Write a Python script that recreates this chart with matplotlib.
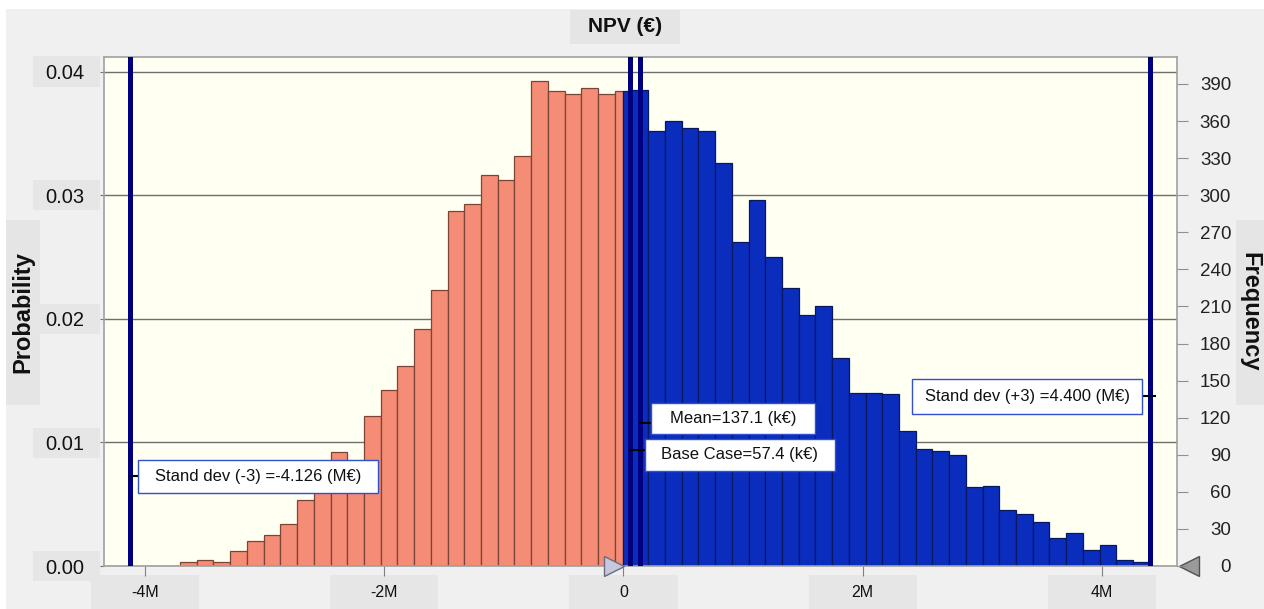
import matplotlib
matplotlib.use("Agg")
import matplotlib.pyplot as plt
import numpy as np
from matplotlib.patches import Rectangle
from matplotlib.transforms import offset_copy, blended_transform_factory

plt.rcParams['font.family'] = ['Liberation Sans', 'DejaVu Sans']

# ---------------- data ----------------
N_TRIALS = 10000
HIST_START = -3.708      # M€, left edge of first bin
BIN_WIDTH = 0.1398       # M€
COUNTS = [3, 5, 3, 12, 20, 25, 34, 53, 72, 92, 84, 121, 142, 162, 192, 223,
          287, 293, 316, 312, 332, 392, 384, 382, 387, 382, 384, 385, 352, 360,
          354, 352, 326, 262, 296, 250, 225, 203, 210, 168, 140, 140, 139, 109,
          95, 93, 90, 64, 65, 45, 42, 36, 23, 27, 13, 17, 5, 3]
SPLIT_VALUE = 0.0
STD_MINUS3 = -4.126
STD_PLUS3 = 4.400
MEAN = 0.1371
BASE_CASE = 0.0574

X_TICKS = [-4, -2, 0, 2, 4]
X_TICK_LABELS = ['-4M', '-2M', '0', '2M', '4M']
PROB_TICKS = [0.00, 0.01, 0.02, 0.03, 0.04]
FREQ_TICKS = list(range(0, 391, 30))

TITLE = 'NPV (€)'
LEFT_LABEL = 'Probability'
RIGHT_LABEL = 'Frequency'
LBL_SDM = 'Stand dev (-3) =-4.126 (M€)'
LBL_SDP = 'Stand dev (+3) =4.400 (M€)'
LBL_MEAN = 'Mean=137.1 (k€)'
LBL_BASE = 'Base Case=57.4 (k€)'

# ---------------- figure ----------------
W, H = 1264, 609
fig = plt.figure(figsize=(W / 100, H / 100), dpi=100, facecolor='#f0f0f0')

def fig_rect(x0, y0, x1, y1, color):
    fig.patches.append(Rectangle((x0 / W, 1 - y1 / H), (x1 - x0) / W, (y1 - y0) / H,
                                 transform=fig.transFigure, fc=color, ec='none', zorder=-5))

fig_rect(0, 0, 6, H, 'white')
fig_rect(0, 0, W, 9, 'white')
fig_rect(570, 10, 680, 44, '#e5e5e5')
fig_rect(6, 220, 40, 405, '#e5e5e5')
fig_rect(1236, 220, 1264, 405, '#e5e5e5')
# boxes behind the probability tick labels
for yc in [71.5, 195, 319, 443, 566]:
    fig_rect(33, yc - 15, 100, yc + 15, '#e6e6e6')

ax = fig.add_axes([104 / W, (H - 566) / H, (1177 - 104) / W, (566 - 57) / H])
ax.set_facecolor('#fffff2')
ax.set_xlim(-4.3436, 4.6279)
ax.set_ylim(0, 411.8)

# bars
edges = HIST_START + BIN_WIDTH * np.arange(len(COUNTS) + 1)
neg_l, neg_w, neg_h, pos_l, pos_w, pos_h = [], [], [], [], [], []
for i, c in enumerate(COUNTS):
    l, r = edges[i], edges[i + 1]
    if r <= SPLIT_VALUE:
        neg_l.append(l); neg_w.append(r - l); neg_h.append(c)
    elif l >= SPLIT_VALUE:
        pos_l.append(l); pos_w.append(r - l); pos_h.append(c)
    else:
        neg_l.append(l); neg_w.append(SPLIT_VALUE - l); neg_h.append(c)
        pos_l.append(SPLIT_VALUE); pos_w.append(r - SPLIT_VALUE); pos_h.append(c)

ax.bar(neg_l, neg_h, width=neg_w, align='edge', color='#f48c76',
       edgecolor='#7a4436', linewidth=0.9, zorder=2)
ax.bar(pos_l, pos_h, width=pos_w, align='edge', color='#0a2dbe',
       edgecolor='#08185e', linewidth=0.9, zorder=2)

# grid + axes styling
ax.set_yticks([p * N_TRIALS for p in PROB_TICKS])
ax.set_yticklabels([f'{p:.2f}' for p in PROB_TICKS])
ax.yaxis.grid(True, color='#6e6e6e', linewidth=1.0)
ax.set_axisbelow(True)
for s in ax.spines.values():
    s.set_color('#a0a0a0')
    s.set_linewidth(1.2)
ax.tick_params(axis='y', left=True, length=3, color='#707070', labelsize=14.5,
               pad=11, labelcolor='#111111')

ax.set_xticks(X_TICKS)
ax.set_xticklabels(X_TICK_LABELS)
ax.tick_params(axis='x', length=7, color='#808080', labelsize=11.5, pad=7,
               labelcolor='#111111')
bt = blended_transform_factory(ax.transData, fig.transFigure)
for t in X_TICKS:
    fig.patches.append(Rectangle((t - 0.452, 0), 0.904, 34 / H, transform=bt,
                                 fc='#e6e6e6', ec='none', zorder=-5))

ax2 = ax.twinx()
ax2.set_ylim(ax.get_ylim())
ax2.set_yticks(FREQ_TICKS)
ax2.set_yticklabels([str(v) for v in FREQ_TICKS], ha='right')
for s in ax2.spines.values():
    s.set_visible(False)
ax2.tick_params(axis='y', length=8, color='#909090', labelsize=13.5, pad=31,
                labelcolor='#222222')

# vertical reference lines
for v in [STD_MINUS3, BASE_CASE, MEAN, STD_PLUS3]:
    ax.axvline(v, color='#00007f', linewidth=3.6, zorder=3)

# annotation boxes
def label_box(text, left, right, ybot, ytop):
    ax.add_patch(Rectangle((left, ybot), right - left, ytop - ybot, fc='white',
                           ec='#3050d0', lw=1.0, zorder=5))
    ax.text((left + right) / 2, (ybot + ytop) / 2, text, ha='center', va='center',
            fontsize=12, color='#111111', zorder=6)

label_box(LBL_SDM, -4.060, -2.053, 59.1, 85.8)
ax.plot([STD_MINUS3, -4.060], [72.5, 72.5], color='black', lw=1.5, zorder=4)
label_box(LBL_MEAN, 0.230, 1.599, 106.8, 131.6)
ax.plot([MEAN, 0.230], [115.5, 115.5], color='black', lw=1.5, zorder=4)
label_box(LBL_BASE, 0.176, 1.768, 77.1, 103.0)
ax.plot([BASE_CASE, 0.176], [93.9, 93.9], color='black', lw=1.5, zorder=4)
label_box(LBL_SDP, 2.415, 4.335, 122.7, 151.5)
ax.plot([4.335, 4.44], [137.7, 137.7], color='black', lw=1.5, zorder=4)

# slider markers
ax.plot([SPLIT_VALUE], [0], marker='>', ms=15, mfc='#c8c8dc', mec='#6a6a80', mew=1,
        transform=offset_copy(ax.transData, fig=fig, x=-9, y=0, units='dots'),
        clip_on=False, zorder=10)
ax.plot([1], [0], marker='<', ms=15, mfc='#9a9a9a', mec='#505050', mew=1,
        transform=offset_copy(ax.transAxes, fig=fig, x=12, y=0, units='dots'),
        clip_on=False, zorder=10)

# titles
fig.text(625 / W, 1 - 27 / H, TITLE, ha='center', va='center', fontsize=15,
         fontweight='bold', color='#111111')
fig.text(23 / W, 1 - 312 / H, LEFT_LABEL, ha='center', va='center', fontsize=17,
         fontweight='bold', rotation=90, color='#111111')
fig.text(1250 / W, 1 - 312 / H, RIGHT_LABEL, ha='center', va='center', fontsize=17,
         fontweight='bold', rotation=-90, color='#111111')

fig.savefig('out.png', dpi=100, facecolor=fig.get_facecolor())
